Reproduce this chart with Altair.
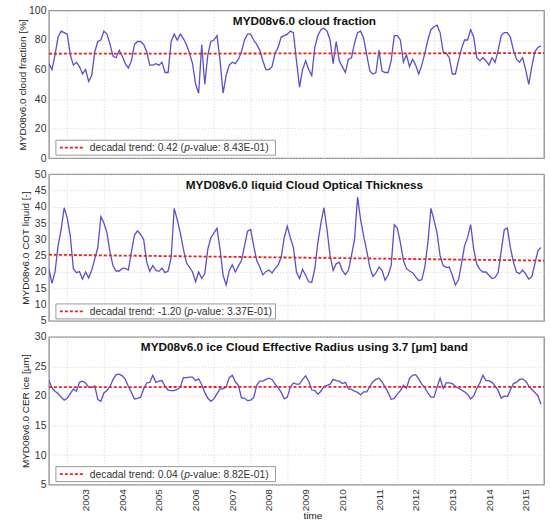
import altair as alt
import pandas as pd

FONT = "Liberation Sans"

# monthly values, July 2002 .. December 2015
cloud_fraction = [
    64, 60, 70, 82, 86, 85,
    84, 70, 63, 65, 62, 57, 60, 52, 56, 72, 79, 80,
    86, 84, 77, 69, 68, 73, 69, 64, 61, 66, 77, 79,
    79, 77, 72, 63, 63, 64, 63, 65, 58, 58, 79, 84,
    80, 84, 81, 77, 71, 64, 50, 44, 77, 50, 70, 79,
    80, 83, 66, 44, 56, 63, 65, 64, 67, 72, 80, 84,
    84, 80, 77, 73, 66, 60, 60, 62, 71, 75, 82, 83,
    84, 86, 85, 66, 48, 60, 66, 60, 56, 75, 83, 87,
    88, 86, 80, 64, 79, 66, 62, 58, 67, 68, 78, 85,
    86, 81, 70, 59, 57, 58, 73, 59, 58, 58, 66, 83,
    83, 80, 65, 70, 62, 67, 63, 57, 63, 71, 80, 87,
    89, 90, 85, 72, 71, 68, 57, 57, 66, 74, 80, 80,
    87, 82, 68, 66, 68, 66, 63, 68, 65, 73, 83, 85,
    85, 82, 73, 67, 65, 68, 60, 50, 62, 72, 75, 76,
]

cot_liquid = [
    21, 16.5, 20, 28, 33, 39.7,
    36.5, 31, 21, 19.8, 20.1, 17.8, 20, 18.2, 20.5, 24, 27.5, 37,
    35, 32, 26, 21.8, 20.3, 20.3, 21.1, 21.1, 20.6, 26.2, 31.3, 32.6,
    31.5, 30, 23, 20.2, 22, 20.5, 20.2, 21.2, 19.8, 20.3, 24.5, 39.5,
    36, 32, 27, 22.8, 21.4, 20, 17, 20, 18, 19.5, 27, 30.5,
    32, 33.4, 27, 19, 16, 20.4, 22.2, 20, 21.8, 23.5, 28, 32.5,
    33, 28, 23.5, 21.5, 19.1, 20.1, 20.6, 19.7, 21, 22.2, 24.5, 30.5,
    34, 30.5, 27.5, 20, 18, 20.8, 19, 17, 16.8, 21, 29, 35,
    39.7, 33, 25, 20.5, 22.5, 23, 20.5, 19.2, 20.5, 25, 30, 43,
    36, 31, 26.5, 21.5, 18.6, 19.7, 21.5, 20.5, 17.5, 19, 22, 34.5,
    33.5, 29, 23.5, 21, 20.3, 19.8, 18.5, 17.4, 17.6, 21.5, 29, 39.5,
    36, 32, 25, 22, 21.4, 21.5, 19, 16, 17.5, 22.5, 28, 30.6,
    34.5, 27, 22.4, 20.8, 20, 20, 19, 18, 18.3, 19.8, 26.5, 33,
    33.5, 27.5, 23, 20, 19.5, 20.6, 19.4, 17.8, 18.5, 22.5, 26.5, 27.5,
]

cer_ice = [
    22.6, 21.4, 20.8, 20.4, 19.8, 19.3,
    19.6, 20.4, 21.2, 20.8, 22.3, 22.5, 22.2, 21.5, 21.4, 21.7, 19.4, 19.1,
    20.5, 20.9, 21.6, 22.8, 23.6, 23.7, 23.4, 22.8, 21.6, 20.6, 19.5, 19.6,
    19.8, 21.2, 22.2, 22.3, 23.5, 22.3, 22.5, 22.6, 21.6, 21.0, 20.9, 20.9,
    21.1, 21.5, 23.1, 23.1, 23.2, 23.2, 22.6, 22.9, 21.9, 20.6, 19.6, 19.1,
    19.5, 20.4, 21.2, 21.2, 21.5, 23.1, 23.5, 22.4, 21.8, 19.7, 19.6, 19.2,
    19.3, 19.7, 21.8, 22.5, 22.5, 22.8, 23.0, 22.8, 22.0, 21.4, 20.6, 19.5,
    19.8, 21.5, 22.2, 22.0, 22.0, 22.8, 23.4, 22.5, 21.0, 20.9, 20.3, 20.8,
    21.6, 21.8, 22.0, 22.8, 22.6, 22.5, 22.1, 22.3, 21.2, 21.1, 20.8, 20.6,
    20.2, 20.7, 20.7, 21.6, 22.4, 22.8, 23.0, 22.4, 21.5, 20.6, 19.4, 19.6,
    20.3, 20.9, 21.8, 21.3, 23.0, 23.5, 23.6, 22.9, 22.0, 21.4, 20.5, 19.8,
    19.8, 21.5, 23.0, 21.3, 22.2, 22.2, 22.1, 21.6, 21.3, 21.0, 20.7, 20.3,
    19.5, 20.0, 21.3, 22.2, 23.5, 22.6, 22.6, 22.3, 21.7, 20.9, 19.6, 20.0,
    19.9, 21.0, 22.1, 22.3, 22.8, 22.9, 22.5, 21.7, 21.1, 20.6, 20.0, 18.6,
]

trend_years = [2002.5, 2016.0]
trend_cf = [70.7, 71.1]
trend_cot = [25.3, 23.5]
trend_cer = [21.5, 21.55]

year_ticks = list(range(2003, 2016))
cf_ticks = [0, 20, 40, 60, 80, 100]
cot_ticks = [5, 10, 15, 20, 25, 30, 35, 40, 45, 50]
cer_ticks = [5, 10, 15, 20, 25, 30]

W = 496
LINE_COLOR = "#5a4fcc"
TREND_COLOR = "#e8231d"

# Arial / Liberation Sans advance widths (per 1000 em)
WIDTHS = {" ": 278, "(": 333, ")": 333, "-": 333, ".": 278, ":": 278, "E": 667,
          "a": 556, "c": 500, "d": 556, "e": 556, "l": 222, "n": 556, "p": 556,
          "r": 333, "t": 278, "u": 556, "v": 500}


def text_width(s, size):
    return sum(WIDTHS.get(ch, 556) for ch in s) * size / 1000.0


def panel(values, trend, ticks, domain, ytitle, title, trend_txt, pval_txt,
          height, bottom, title_pad):
    times = [2002.5 + i / 12.0 for i in range(len(values))]
    df = pd.DataFrame({"t": times, "v": values})
    tdf = pd.DataFrame({"t": trend_years, "v": trend})
    one = pd.DataFrame({"a": [0]})

    if bottom:
        xaxis = alt.Axis(values=year_ticks, format="d", labelAngle=-90,
                         labelOffset=18.4, labelPadding=4, ticks=False,
                         domain=False, title="time", titleFontSize=10,
                         titleFontWeight="normal", titlePadding=0, titleX=264,
                         labelFontSize=10, grid=True, labelOverlap=False)
    else:
        xaxis = alt.Axis(values=year_ticks, labels=False, ticks=False,
                         domain=False, title=None, grid=True)

    yaxis = alt.Axis(values=ticks, title=ytitle, ticks=False, domain=False,
                     labelPadding=3, titlePadding=title_pad,
                     titleFontSize=10, titleFontWeight="normal",
                     labelFontSize=10.4, grid=True, labelOverlap=False,
                     labelBound=False, labelFlush=False)

    x = alt.X("t:Q", scale=alt.Scale(domain=[2002.5, 2016.0], nice=False, zero=False),
              axis=xaxis)
    y = alt.Y("v:Q", scale=alt.Scale(domain=domain, nice=False, zero=False),
              axis=yaxis)

    line = alt.Chart(df).mark_line(color=LINE_COLOR, strokeWidth=1.3, clip=True).encode(x=x, y=y)
    tline = alt.Chart(tdf).mark_line(color=TREND_COLOR, strokeWidth=1.8,
                                     strokeDash=[3, 2], clip=True).encode(x=x, y=y)

    ttl = alt.Chart(one).mark_text(fontSize=11.8, fontWeight="bold", align="center",
                                   baseline="middle", color="#111").encode(
        x=alt.value(256), y=alt.value(10.5), text=alt.value(title))

    box = alt.Chart(one).mark_rect(fill="white", stroke="#9a9a9a", strokeWidth=1).encode(
        x=alt.value(7), x2=alt.value(227), y=alt.value(130), y2=alt.value(145))
    sample = alt.Chart(one).mark_rule(color=TREND_COLOR, strokeWidth=1.8,
                                      strokeDash=[3, 2]).encode(
        x=alt.value(11), x2=alt.value(35), y=alt.value(137.5))
    fs = 10.3
    x0 = 41
    x1 = x0 + text_width(trend_txt, fs)
    x2 = x1 + text_width("p", fs)
    t1 = alt.Chart(one).mark_text(fontSize=fs, align="left", baseline="middle",
                                  color="#333").encode(
        x=alt.value(x0), y=alt.value(138), text=alt.value(trend_txt))
    t2 = alt.Chart(one).mark_text(fontSize=fs, align="left", baseline="middle",
                                  fontStyle="italic", color="#333").encode(
        x=alt.value(x1), y=alt.value(138), text=alt.value("p"))
    t3 = alt.Chart(one).mark_text(fontSize=fs, align="left", baseline="middle",
                                  color="#333").encode(
        x=alt.value(x2), y=alt.value(138), text=alt.value(pval_txt))

    return alt.layer(line, tline, ttl, box, sample, t1, t2, t3).properties(
        width=W, height=height)


p1 = panel(cloud_fraction, trend_cf, cf_ticks, [0, 100],
           "MYD08v6.0 cloud fraction [%]", "MYD08v6.0 cloud fraction",
           "decadal trend: 0.42 (", "-value: 8.43E-01)", 148, False, 1)
p2 = panel(cot_liquid, trend_cot, cot_ticks, [5, 50],
           "MYD08v6.0 COT liquid [-]", "MYD08v6.0 liquid Cloud Optical Thickness",
           "decadal trend: -1.20 (", "-value: 3.37E-01)", 147, False, 4)
p3 = panel(cer_ice, trend_cer, cer_ticks, [5, 30],
           "MYD08v6.0 CER ice [µm]", "MYD08v6.0 ice Cloud Effective Radius using 3.7 [µm] band",
           "decadal trend: 0.04 (", "-value: 8.82E-01)", 148, True, 4)

chart = alt.vconcat(p1, p2, p3, spacing=16, bounds="flush").configure(
    font=FONT,
    padding={"left": 17, "top": 4, "right": 5, "bottom": 0},
    background="white",
).configure_view(
    stroke="#8c8c8c", strokeWidth=1.3
).configure_axis(
    labelColor="#333", titleColor="#222", labelFont=FONT, titleFont=FONT,
    gridColor="#d4d4d4", gridDash=[1, 2], gridWidth=1
).configure_axisY(
    labelOverlap=False
)

chart.save("out.html", embed_options={"renderer": "svg", "actions": False})
